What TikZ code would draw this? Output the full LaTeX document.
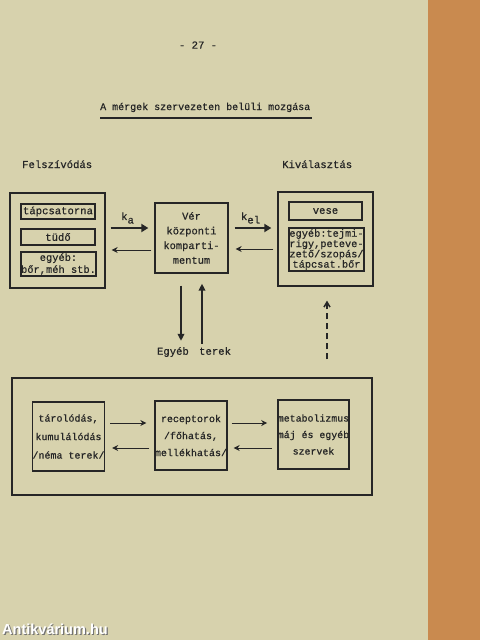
\documentclass[tikz,border=0pt]{standalone}
\usepackage{fontspec}
\setmonofont{Liberation Mono}[FakeBold=0.6]
\setsansfont{Liberation Sans}
\usetikzlibrary{arrows.meta,calc}
\definecolor{paper}{HTML}{D7D2AD}
\definecolor{wood}{HTML}{C98A4F}
\definecolor{ink}{HTML}{262626}
\begin{document}
\begin{tikzpicture}[x=1pt,y=-1pt,
  box/.style={draw=ink,line width=1.3pt,inner sep=0pt,align=center,text=ink,
    font=\ttfamily\fontsize{10.6}{14}\selectfont},
  lbl/.style={inner sep=0pt,text=ink,font=\ttfamily\fontsize{10.6}{12}\selectfont},
  thick arrow/.style={draw=ink,line width=2.8pt,-{Triangle[length=7pt,width=8pt]}},
  thin arrow/.style={draw=ink,line width=1pt,-{Stealth[length=6pt,width=6pt]}},
  vert arrow/.style={draw=ink,line width=2.2pt,-{Triangle[length=7pt,width=6.5pt]}},
  dash arrow/.style={draw=ink,line width=1.5pt,dash pattern=on 6pt off 4pt,-{Straight Barb[length=5pt,width=6pt]}}]
\useasboundingbox (0,0) rectangle (480,640);
\fill[paper] (0,0) rectangle (428,640);
\fill[wood] (428,0) rectangle (480,640);

% header
\node[lbl] (pg) at (198,45) {- 27 -};
\node[lbl, anchor=base west, font=\ttfamily\fontsize{10}{12}\selectfont] (title) at (100,110) {A mérgek szervezeten belüli mozgása};
\draw[ink,line width=1.5pt] (title.south west |- 0,118) coordinate (ul1) -- (312,118) coordinate (ul2);

\node[lbl, anchor=base west] (felsz) at (22,168) {Felszívódás};
\node[lbl, anchor=base west] (kival) at (282,168) {Kiválasztás};

% left group
\node[box, minimum width=95pt, minimum height=95pt] (L) at (57.5,240.5) {};
\node[box, minimum width=74pt, minimum height=15pt] (tap) at (58,211.5) {tápcsatorna};
\node[box, minimum width=74pt, minimum height=16pt] (tudo) at (58,237) {tüdő};
\node[box, minimum width=75pt, minimum height=24pt, font=\ttfamily\fontsize{10.4}{12}\selectfont] (egyL) at (58.5,264) {egyéb:\\bőr,méh stb.};

% central
\node[box, minimum width=73pt, minimum height=70pt, font=\ttfamily\fontsize{10.4}{14.7}\selectfont] (V) at (191.5,238) {Vér\\központi\\komparti-\\mentum};

% right group
\node[box, minimum width=95pt, minimum height=94pt] (R) at (325.5,239) {};
\node[box, minimum width=73pt, minimum height=18pt] (vese) at (325.5,211) {vese};
\node[box, minimum width=75pt, minimum height=43pt, font=\ttfamily\fontsize{10.3}{10.3}\selectfont] (egyR) at (326.5,249.5) {egyéb:tejmi-\\rigy,peteve-\\zető/szopás/\\tápcsat.bőr};

% arrows top row
\draw[thick arrow, shorten <=5pt, shorten >=6pt] ([yshift=10pt]V.west -| L.east) -- ([yshift=10pt]V.west)
  node[pos=0.45, above=3pt, lbl] (ka) {k\raisebox{-3.5pt}{a}};
\draw[thin arrow, shorten <=3pt, shorten >=6pt] ([yshift=-12pt]V.west) -- ([yshift=-12pt]V.west -| L.east);
\draw[thick arrow, shorten <=6pt, shorten >=6pt] ([yshift=10pt]V.east) -- ([yshift=10pt]V.east -| R.west)
  node[pos=0.45, above=3pt, lbl] (kel) {k\raisebox{-3.5pt}{el}};
\draw[thin arrow, shorten <=4pt, shorten >=7pt] ([yshift=-11pt]V.east -| R.west) -- ([yshift=-11pt]V.east);

% egyéb terek
\node[lbl] (E) at (194,352) {Egyéb\hspace{4pt} terek};
\draw[vert arrow, shorten <=12pt, shorten >=6pt] ([xshift=-10.5pt]V.south) -- ([xshift=-10.5pt]V.south |- E.north);
\draw[vert arrow, shorten <=3pt, shorten >=10pt] ([xshift=10.5pt]V.south |- E.north) -- ([xshift=10.5pt]V.south);

% bottom group
\node[box, minimum width=360pt, minimum height=117pt] (B) at (192,436.5) {};
\node[box, minimum width=69pt, minimum height=69pt, font=\ttfamily\fontsize{10}{18.5}\selectfont] (T) at (68.5,436.5) {tárolódás,\\kumulálódás\\/néma terek/};
\node[box, minimum width=72pt, minimum height=69pt, font=\ttfamily\fontsize{10}{17}\selectfont] (Rc) at (191,435.5) {receptorok\\/főhatás,\\mellékhatás/};
\node[box, minimum width=71pt, minimum height=69pt, font=\ttfamily\fontsize{9.9}{16.5}\selectfont] (M) at (313.5,434.5) {metabolizmus\\máj és egyéb\\szervek};

\draw[dash arrow, shorten <=18pt, shorten >=14pt] ([xshift=1.5pt]R.south |- B.north) -- ([xshift=1.5pt]R.south);

\draw[thin arrow, shorten <=5pt, shorten >=8pt] ([yshift=12.5pt]Rc.west -| T.east) -- ([yshift=12.5pt]Rc.west);
\draw[thin arrow, shorten <=5pt, shorten >=7pt] ([yshift=-12.5pt]Rc.west) -- ([yshift=-12.5pt]Rc.west -| T.east);
\draw[thin arrow, shorten <=4pt, shorten >=10pt] ([yshift=12.5pt]Rc.east) -- ([yshift=12.5pt]Rc.east -| M.west);
\draw[thin arrow, shorten <=5pt, shorten >=6pt] ([yshift=-12.5pt]Rc.east -| M.west) -- ([yshift=-12.5pt]Rc.east);

% watermark
\node[anchor=base west, inner sep=0pt, text=black!55, font=\sffamily\bfseries\fontsize{14.5}{16}\selectfont] at (3.2,635.2) {Antikvárium.hu};
\node[anchor=base west, inner sep=0pt, text=white, font=\sffamily\bfseries\fontsize{14.5}{16}\selectfont] (wm) at (2,634) {Antikvárium.hu};
\end{tikzpicture}
\end{document}
